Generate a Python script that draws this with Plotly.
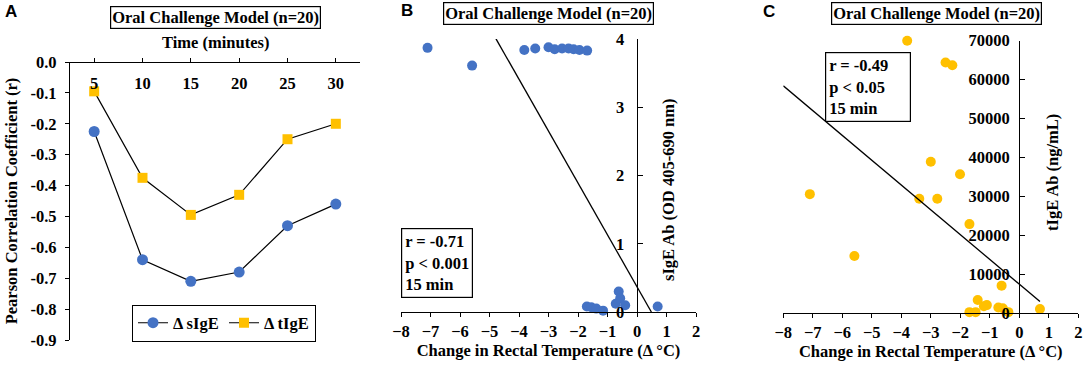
import plotly.graph_objects as go

# ---------------- data ----------------
time_min = [5, 10, 15, 20, 25, 30]
time_labels = ["5", "10", "15", "20", "25", "30"]
r_sige = [-0.225, -0.64, -0.71, -0.68, -0.53, -0.46]
r_tige = [-0.095, -0.375, -0.495, -0.43, -0.25, -0.20]
a_ytick_vals = [0.0, -0.1, -0.2, -0.3, -0.4, -0.5, -0.6, -0.7, -0.8, -0.9]
a_ytick_text = ["0.0", "-0.1", "-0.2", "-0.3", "-0.4", "-0.5", "-0.6", "-0.7", "-0.8", "-0.9"]

temp_b = [-7.10, -5.59, -3.82, -3.45, -3.00, -2.79, -2.54, -2.32, -2.15, -1.95, -1.69,
          -1.70, -1.55, -1.38, -1.15, -0.62, -0.72, -0.57, -0.40, 0.70]
sige_b = [3.87, 3.61, 3.84, 3.86, 3.88, 3.85, 3.86, 3.86, 3.85, 3.84, 3.83,
          0.08, 0.07, 0.05, 0.02, 0.30, 0.12, 0.20, 0.10, 0.08]
fit_b_slope = -0.76
fit_b_intercept = 0.37
fit_b_x = [-4.78, 0.487]

temp_c = [-7.10, -5.59, -3.80, -3.39, -3.00, -2.78, -2.50, -2.27, -2.01, -1.69,
          -1.69, -1.48, -1.41, -1.20, -1.10, -0.71, -0.60, -0.56, -0.37, 0.70]
tige_c = [30600, 14700, 70000, 29400, 38900, 29400, 64400, 63700, 35700, 22900,
          300, 300, 3400, 1800, 2100, 1500, 7100, 1300, 300, 1100]
fit_c_slope = -6370
fit_c_intercept = 7460
fit_c_x = [-8.0, 0.70]

x_ticks_temp = [-8, -7, -6, -5, -4, -3, -2, -1, 0, 1, 2]
b_yticks = [0, 1, 2, 3, 4]
c_yticks = [0, 10000, 20000, 30000, 40000, 50000, 60000, 70000]

title_text = "Oral Challenge Model (n=20)"
a_xtitle = "Time (minutes)"
a_ytitle = "Pearson Correlation Coefficient (r)"
temp_title = "Change in Rectal Temperature (Δ °C)"
b_ytitle = "sIgE Ab (OD 405-690 nm)"
c_ytitle = "tIgE Ab (ng/mL)"
stats_b = ["r = -0.71", "p &lt; 0.001", "15 min"]
stats_c = ["r = -0.49", "p &lt; 0.05", "15 min"]

# ---------------- style ----------------
W, H = 1084, 365
BLUE = "#4472C4"
GOLD = "#FFC000"
SERIF = "Liberation Serif"
FS = 16.5

def fx(p):
    return p / W

def fy(p):
    return 1 - p / H

bold = dict(family=SERIF, size=FS, color="black", weight="bold")

fig = go.Figure()

# Panel A
fig.add_trace(go.Scatter(x=time_min, y=r_sige, mode="lines+markers", name="Δ sIgE",
                         line=dict(color="black", width=1.2),
                         marker=dict(symbol="circle", size=11, color=BLUE),
                         xaxis="x", yaxis="y", cliponaxis=False))
fig.add_trace(go.Scatter(x=time_min, y=r_tige, mode="lines+markers", name="Δ tIgE",
                         line=dict(color="black", width=1.2),
                         marker=dict(symbol="square", size=10, color=GOLD),
                         xaxis="x", yaxis="y", cliponaxis=False))

# Panel B
fig.add_trace(go.Scatter(x=temp_b, y=sige_b, mode="markers", showlegend=False,
                         marker=dict(size=10, color=BLUE),
                         xaxis="x2", yaxis="y2", cliponaxis=False))
fig.add_trace(go.Scatter(x=fit_b_x, y=[fit_b_intercept + fit_b_slope * v for v in fit_b_x],
                         mode="lines", showlegend=False, line=dict(color="black", width=1.3),
                         xaxis="x2", yaxis="y2", cliponaxis=False))

# Panel C
fig.add_trace(go.Scatter(x=temp_c, y=tige_c, mode="markers", showlegend=False,
                         marker=dict(size=10, color=GOLD),
                         xaxis="x3", yaxis="y3", cliponaxis=False))
fig.add_trace(go.Scatter(x=fit_c_x, y=[fit_c_intercept + fit_c_slope * v for v in fit_c_x],
                         mode="lines", showlegend=False, line=dict(color="black", width=1.3),
                         xaxis="x3", yaxis="y3", cliponaxis=False))

axis_common = dict(showline=True, linecolor="black", linewidth=1.3, showgrid=False,
                   zeroline=False, tickfont=bold, tickcolor="black", tickwidth=1.3,
                   automargin=False)

fig.update_layout(
    width=W, height=H, margin=dict(l=0, r=0, t=0, b=0, pad=0, autoexpand=False),
    paper_bgcolor="white", plot_bgcolor="white",
    font=dict(family=SERIF, size=FS, color="black"),
    showlegend=True,
    legend=dict(orientation="h", x=fx(224), y=fy(323), xanchor="center", yanchor="middle",
                bordercolor="black", borderwidth=1, font=bold, itemwidth=30,
                entrywidth=46, entrywidthmode="pixels",
                bgcolor="white", tracegroupgap=0),
    xaxis=dict(domain=[fx(70), fx(360)], anchor="free", position=fy(62), side="bottom",
               range=[2.5, 32.5], tickvals=time_min, ticktext=time_labels,
               ticks="inside", ticklen=4, ticklabelstandoff=6, **axis_common),
    yaxis=dict(domain=[fy(340), fy(62)], anchor="x", range=[-0.9, 0],
               tickvals=a_ytick_vals, ticktext=a_ytick_text, ticks="outside", ticklen=4,
               ticklabelstandoff=5,
               title=dict(text=a_ytitle, font=bold, standoff=8),
               **axis_common),
    xaxis2=dict(domain=[fx(401), fx(696)], anchor="y2", range=[-8, 2],
                tickvals=x_ticks_temp, ticks="outside", ticklen=4,
                title=dict(text=temp_title, font=bold, standoff=4),
                **axis_common),
    yaxis2=dict(domain=[fy(312), fy(39)], anchor="free", position=fx(636.7), side="left",
                range=[0, 4], tickvals=b_yticks, ticks="inside", ticklen=5,
                ticklabelstandoff=9, **axis_common),
    xaxis3=dict(domain=[fx(783.3), fx(1078.3)], anchor="y3", range=[-8, 2],
                tickvals=x_ticks_temp, ticks="outside", ticklen=4,
                title=dict(text=temp_title, font=bold, standoff=4),
                **axis_common),
    yaxis3=dict(domain=[fy(313.3), fy(40.7)], anchor="free", position=fx(1019.3), side="left",
                range=[0, 70000], tickvals=c_yticks, tickformat="d", ticks="inside", ticklen=5,
                ticklabelstandoff=6, **axis_common),
)

annotations = []
# panel letters
for letter, xp, yp in [("A", 3, 12), ("B", 399, 10), ("C", 761, 12)]:
    annotations.append(dict(text=letter, x=fx(xp), y=fy(yp), xref="paper", yref="paper",
                            xanchor="left", yanchor="middle", showarrow=False,
                            font=dict(family="Liberation Sans", size=17, color="black", weight="bold")))
# title boxes
for cx, cy in [(215, 17), (548, 14), (936, 14)]:
    annotations.append(dict(text=title_text, x=fx(cx), y=fy(cy), xref="paper", yref="paper",
                            xanchor="center", yanchor="middle", showarrow=False,
                            font=bold, bordercolor="black", borderwidth=1.2, borderpad=1,
                            bgcolor="white"))
# axis titles placed like the original
annotations.append(dict(text=a_xtitle, x=fx(215), y=fy(43), xref="paper", yref="paper",
                        xanchor="center", yanchor="middle", showarrow=False, font=bold))
annotations.append(dict(text=b_ytitle, x=fx(668), y=fy(190), xref="paper", yref="paper",
                        xanchor="center", yanchor="middle", showarrow=False, font=bold,
                        textangle=-90))
annotations.append(dict(text=c_ytitle, x=fx(1053), y=fy(173), xref="paper", yref="paper",
                        xanchor="center", yanchor="middle", showarrow=False, font=bold,
                        textangle=-90))
# stats boxes
for lines, lx, ty, wd in [(stats_b, 401, 228, 64), (stats_c, 825, 52, 78)]:
    annotations.append(dict(text="<br>".join(lines), x=fx(lx), y=fy(ty), xref="paper", yref="paper",
                            xanchor="left", yanchor="top", showarrow=False, align="left",
                            width=wd, font=bold, bordercolor="black", borderwidth=1.2, borderpad=3,
                            bgcolor="white"))
fig.update_layout(annotations=annotations)

# remove the browser's default 8px page margin so the figure fills the window exactly
fig.write_html("out.html", config={"displayModeBar": False},
               post_script="document.body.style.margin='0';")
